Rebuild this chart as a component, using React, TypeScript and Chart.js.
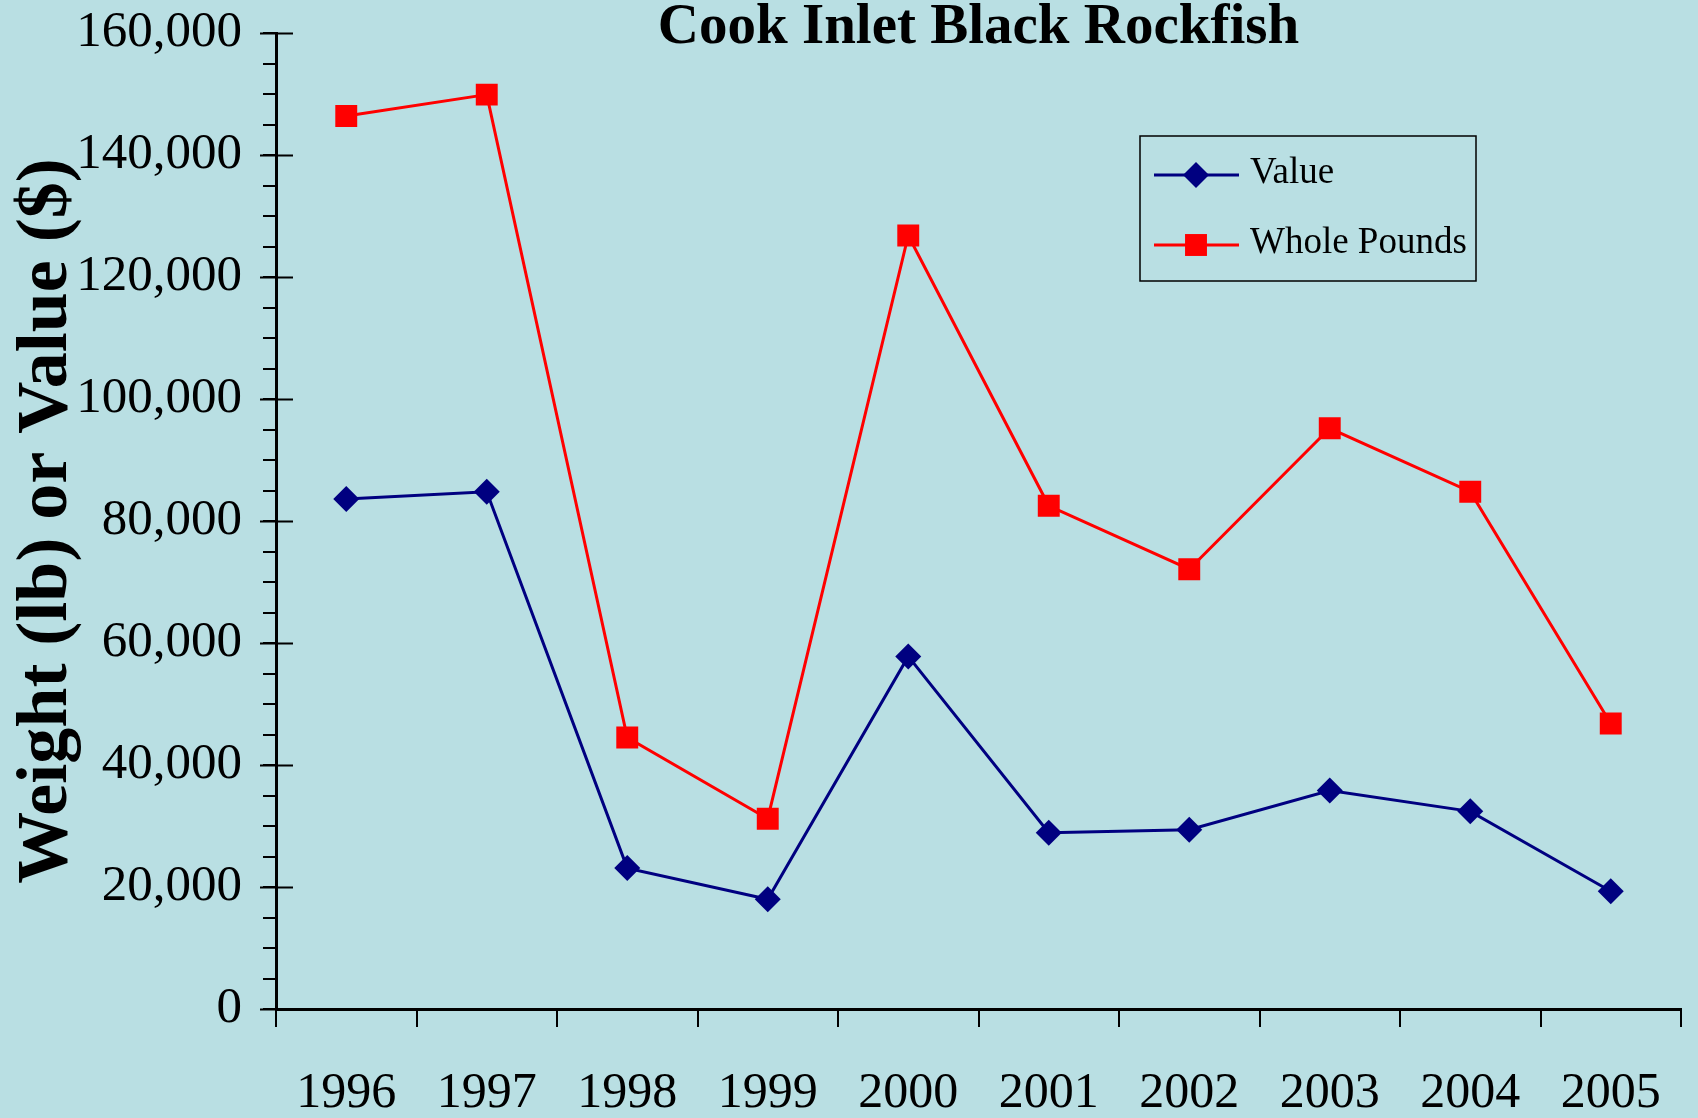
import React, { useEffect, useRef } from 'react';
import { Chart, registerables } from 'chart.js';

Chart.register(...registerables);

// ---- data ----
const years = ['1996', '1997', '1998', '1999', '2000', '2001', '2002', '2003', '2004', '2005'];
const valueDollars = [83600, 84800, 23100, 18000, 57800, 28900, 29400, 35800, 32400, 19300];
const wholePounds = [146400, 149900, 44500, 31200, 126800, 82500, 72100, 95200, 84800, 46800];
const seriesNames = ['Value', 'Whole Pounds'];
const yMin = 0;
const yMax = 160000;
const yMajorStep = 20000;
const yMinorStep = 5000;
const titleText = 'Cook Inlet Black Rockfish';
const yAxisTitle = 'Weight (lb) or Value ($)';

const BG = '#B9DFE3';
const FONT = "'Liberation Serif', 'Times New Roman', serif";
const NAVY = '#000080';
const RED = '#FF0000';
const DIAMOND_R = 13;
const SQUARE_R = 15.5;

const backgroundPlugin = {
  id: 'bgFill',
  beforeDraw(chart: any) {
    const { ctx, width, height } = chart;
    ctx.save();
    ctx.fillStyle = BG;
    ctx.fillRect(0, 0, width, height);
    ctx.restore();
  },
};

const majorTickPlugin = {
  id: 'majorTicks',
  afterDraw(chart: any) {
    const { ctx, chartArea } = chart;
    const scale = chart.scales.y;
    ctx.save();
    ctx.strokeStyle = '#000';
    ctx.lineWidth = 2;
    for (let v = yMin; v <= yMax; v += yMajorStep) {
      const py = Math.round(scale.getPixelForValue(v)) + 0.5;
      ctx.beginPath();
      ctx.moveTo(chartArea.left - 16, py);
      ctx.lineTo(chartArea.left + 17, py);
      ctx.stroke();
    }
    ctx.restore();
  },
};

function drawMarker(ctx: CanvasRenderingContext2D, style: string, x: number, y: number, color: string) {
  ctx.fillStyle = color;
  ctx.beginPath();
  if (style === 'rectRot') {
    const r = DIAMOND_R;
    ctx.moveTo(x - r, y);
    ctx.lineTo(x, y - r);
    ctx.lineTo(x + r, y);
    ctx.lineTo(x, y + r);
    ctx.closePath();
  } else {
    const s = SQUARE_R * Math.SQRT1_2;
    ctx.rect(x - s, y - s, 2 * s, 2 * s);
  }
  ctx.fill();
}

const boxLegendPlugin = {
  id: 'boxLegend',
  afterDraw(chart: any) {
    const { ctx, chartArea } = chart;
    const boxW = 336;
    const boxH = 145;
    const bx = chartArea.right - 205 - boxW;
    const by = chartArea.top + 103;
    ctx.save();
    ctx.strokeStyle = '#000';
    ctx.lineWidth = 1.5;
    ctx.strokeRect(bx, by, boxW, boxH);
    chart.data.datasets.forEach((ds: any, i: number) => {
      const y = by + 39 + i * 70;
      ctx.strokeStyle = ds.borderColor;
      ctx.lineWidth = 3;
      ctx.beginPath();
      ctx.moveTo(bx + 14, y);
      ctx.lineTo(bx + 99, y);
      ctx.stroke();
      drawMarker(ctx, ds.pointStyle, bx + 56, y, ds.backgroundColor);
      ctx.fillStyle = '#000';
      ctx.font = `37px ${FONT}`;
      ctx.textAlign = 'left';
      ctx.textBaseline = 'middle';
      ctx.fillText(ds.label, bx + 110, y - 2);
    });
    ctx.restore();
  },
};

export default function App() {
  const canvasRef = useRef<HTMLCanvasElement | null>(null);

  useEffect(() => {
    document.body.style.margin = '0';
    document.body.style.background = BG;
    const canvas = canvasRef.current;
    if (!canvas) return;
    const chart = new Chart(canvas, {
      type: 'line',
      data: {
        labels: years,
        datasets: [
          {
            label: seriesNames[0],
            data: valueDollars,
            borderColor: NAVY,
            backgroundColor: NAVY,
            borderWidth: 3,
            pointStyle: 'rectRot',
            pointRadius: DIAMOND_R,
            pointHoverRadius: DIAMOND_R,
            pointBorderWidth: 0,
            pointBackgroundColor: NAVY,
            pointBorderColor: NAVY,
            tension: 0,
            fill: false,
          },
          {
            label: seriesNames[1],
            data: wholePounds,
            borderColor: RED,
            backgroundColor: RED,
            borderWidth: 3,
            pointStyle: 'rect',
            pointRadius: SQUARE_R,
            pointHoverRadius: SQUARE_R,
            pointBorderWidth: 0,
            pointBackgroundColor: RED,
            pointBorderColor: RED,
            tension: 0,
            fill: false,
          },
        ],
      },
      options: {
        responsive: false,
        animation: false,
        devicePixelRatio: 1,
        layout: { padding: { left: 0, right: 17, top: 0, bottom: 0 } },
        plugins: {
          legend: { display: false },
          tooltip: { enabled: false },
          title: {
            display: true,
            text: titleText,
            fullSize: false,
            color: '#000',
            font: { family: FONT, size: 57, weight: 'bold', lineHeight: 1 },
            padding: { top: 0, bottom: -24 },
          },
        },
        scales: {
          x: {
            type: 'category',
            offset: true,
            grid: {
              offset: true,
              drawOnChartArea: false,
              drawTicks: true,
              tickLength: 18,
              color: '#000',
              lineWidth: 2,
            },
            border: { color: '#000', width: 3 },
            ticks: {
              color: '#000',
              font: { family: FONT, size: 50, lineHeight: 1 },
              padding: 42,
              maxRotation: 0,
              autoSkip: false,
            },
            afterFit(scale: any) {
              scale.height = 109;
              scale.paddingLeft = 0;
              scale.paddingRight = 0;
            },
          },
          y: {
            min: yMin,
            max: yMax,
            grid: {
              drawOnChartArea: false,
              drawTicks: true,
              tickLength: 13,
              color: '#000',
              lineWidth: 2,
            },
            border: { color: '#000', width: 3 },
            ticks: {
              stepSize: yMinorStep,
              autoSkip: false,
              color: '#000',
              padding: 21,
              font: { family: FONT, size: 51, lineHeight: 1 },
              callback: (v: any) => (Number(v) % yMajorStep === 0 ? Number(v).toLocaleString('en-US') : ''),
            },
            title: {
              display: true,
              text: yAxisTitle,
              color: '#000',
              font: { family: FONT, size: 72, weight: 'bold', lineHeight: 1 },
              padding: { top: 11, bottom: 0 },
            },
            afterFit(scale: any) {
              scale.width = 276;
              scale.paddingTop = 0;
              scale.paddingBottom = 0;
            },
          },
        },
      },
      plugins: [backgroundPlugin, majorTickPlugin, boxLegendPlugin],
    } as any);
    return () => chart.destroy();
  }, []);

  return (
    <div style={{ width: 1698, height: 1118, background: BG }}>
      <canvas ref={canvasRef} width={1698} height={1118} style={{ display: 'block' }} />
    </div>
  );
}
